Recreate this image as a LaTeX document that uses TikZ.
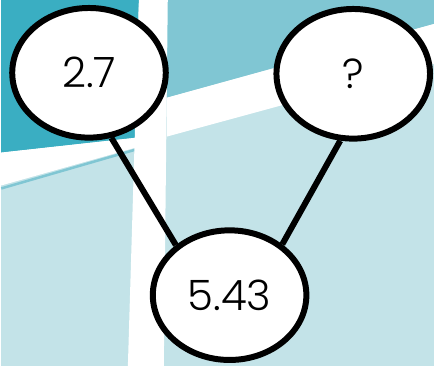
\documentclass[tikz,border=0pt]{standalone}
\usepackage{fontspec}
\setmainfont{Poppins Light}
\definecolor{deepteal}{HTML}{3AAEC2}
\definecolor{midteal}{HTML}{80C6D3}
\definecolor{paleteal}{HTML}{C3E3E8}
\tikzset{
    bubble/.style={draw=black, line width=6pt, fill=white, ellipse,
        minimum width=154pt, minimum height=130pt, inner sep=0pt,
        font=\fontsize{42}{48}\selectfont},
    link/.style={line width=6pt}
}
\usetikzlibrary{shapes.geometric}
\begin{document}
\begin{tikzpicture}[x=1pt,y=-1pt]
    % backdrop
    \fill[paleteal] (0,0) rectangle (434,367);
    \fill[deepteal] (0,0) -- (138,0) -- (136,138) -- (0,153) -- cycle;
    \fill[midteal] (166,0) -- (434,0) -- (434,24) -- (166,98) -- cycle;
    \fill[white] (0,153) -- (136,138) -- (135,148) -- (0,186) -- cycle;
    \draw[midteal, line width=2.5pt] (0,189) -- (135,150);
    \fill[white] (166,98) -- (434,24) -- (434,64) -- (166,137) -- cycle;
    \fill[white] (138,0) -- (167,0) -- (163,367) -- (127,367) -- cycle;
    \useasboundingbox (0,0) rectangle (434,367);
    % number bond
    \node[bubble] (part) at (88,73) {2.7};
    \node[bubble] (missing) at (353,74) {?};
    \node[bubble] (whole) at (229,296) {5.43};
    \draw[link] (part.-71) -- (whole.137);
    \draw[link] (missing.-101) -- (whole.44);
\end{tikzpicture}
\end{document}
